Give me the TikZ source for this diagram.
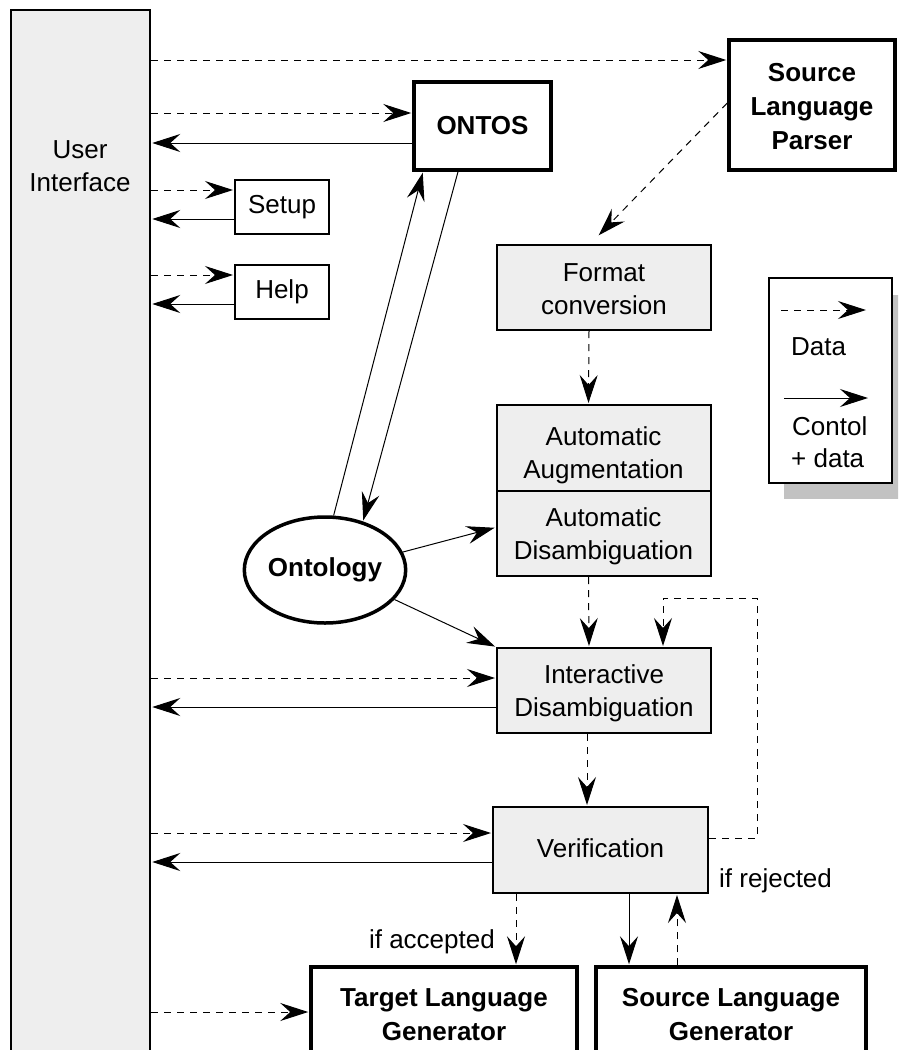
\documentclass[tikz,border=0pt]{standalone}
\usepackage{fontspec}
\setmainfont{Liberation Sans}
\usetikzlibrary{arrows.meta,shapes.geometric}
\definecolor{boxgray}{HTML}{EEEEEE}
\definecolor{shadowgray}{HTML}{C2C2C2}
\begin{document}
\begin{tikzpicture}[x=1pt,y=-1pt,
  font=\fontsize{26}{33}\selectfont,
  >={Stealth[length=28pt,width=18pt,inset=10pt]},
  data/.style={->, dash pattern=on 7pt off 6pt, line width=1pt, shorten >=1pt},
  ctrl/.style={->, line width=1pt, shorten >=1pt},
  uibox/.style={draw, line width=2.5pt, fill=boxgray, inner sep=0},
  graybox/.style={draw, line width=2pt, fill=boxgray, align=center, inner sep=0, minimum width=214pt},
  boldbox/.style={draw, line width=3.5pt, fill=white, align=center, inner sep=0, font=\fontsize{26}{34}\selectfont\bfseries},
  plainbox/.style={draw, line width=2pt, fill=white, inner sep=0},
  lbl/.style={inner sep=0}]
\useasboundingbox (0,0) rectangle (898,1050);
\clip (0,0) rectangle (898,1050);
\fill[white] (0,0) rectangle (898,1050);

% nodes
\node[uibox, minimum width=139pt, minimum height=1070pt] (ui) at (80.5,545) {};
\node[lbl, align=center] (uit) at (80,166) {User\\Interface};
\node[boldbox, minimum width=166pt, minimum height=130pt, label={[lbl,align=center,font=\fontsize{26}{34}\selectfont\bfseries,yshift=-2pt]center:Source\\Language\\Parser}] (slp) at (812,105) {};
\node[boldbox, minimum width=137pt, minimum height=88pt] (ontos) at (482.5,126) {ONTOS};
\node[plainbox, minimum width=94pt, minimum height=54pt] (setup) at (282,207) {Setup};
\node[plainbox, minimum width=94pt, minimum height=54pt] (help) at (282,292) {Help};
\node[graybox, minimum height=85pt, label={[lbl,align=center,yshift=-2pt]center:Format\\conversion}] (fc) at (604,287.5) {};
\node[graybox, minimum height=86pt, label={[lbl,align=center,yshift=-7pt]center:Automatic\\Augmentation}] (aug) at (603.5,448) {};
\node[graybox, minimum height=85pt, label={[lbl,align=center,yshift=-3pt]center:Automatic\\Disambiguation}] (dis) at (603.5,533.5) {};
\node[graybox, minimum height=85pt, label={[lbl,align=center,yshift=-3pt]center:Interactive\\Disambiguation}] (ia) at (604,690.5) {};
\node[graybox, minimum width=215pt, minimum height=86pt, label={[lbl,yshift=2pt]center:Verification}] (ver) at (600.5,850) {};
\node[ellipse, draw, line width=3.5pt, fill=white, minimum width=142pt, minimum height=106pt, inner sep=0, font=\fontsize{26}{33}\selectfont\bfseries] (ont) at (325,570) {Ontology};
\node[boldbox, minimum width=266pt, minimum height=96pt] (tlg) at (444,1015) {Target Language\\Generator};
\node[boldbox, minimum width=270pt, minimum height=96pt] (slg) at (731,1015) {Source Language\\Generator};
\node[lbl, anchor=base west] (rej) at (719,887) {if rejected};
\node[lbl, anchor=base east] (acc) at (495,948) {if accepted};

% legend
\fill[shadowgray] (784,295) rectangle (910,499);
\node[draw, line width=2pt, fill=white, minimum width=123pt, minimum height=205pt, inner sep=0] (lg) at (830.5,380.5) {};
\coordinate (l1a) at (781,310);
\coordinate (l1b) at (867,310);
\coordinate (l2a) at (784,398);
\coordinate (l2b) at (869,398);
\draw[data] (l1a) -- (l1b);
\draw[ctrl] (l2a) -- (l2b);
\node[lbl, anchor=base west] (ldata) at (791,355) {Data};
\node[lbl, anchor=base west] (lctl) at (792,435) {Contol};
\node[lbl, anchor=base west] (lctl2) at (791,467) {+ data};

% connectors with user interface
\draw[data] (ui.east |- 0,60) -- (slp.west |- 0,60);
\draw[data] (ui.east |- 0,113) -- (ontos.west |- 0,113);
\draw[ctrl] (ontos.west |- 0,143) -- (ui.east |- 0,143);
\draw[data] (ui.east |- 0,190) -- (setup.west |- 0,190);
\draw[ctrl] (setup.west |- 0,219) -- (ui.east |- 0,219);
\draw[data] (ui.east |- 0,275) -- (help.west |- 0,275);
\draw[ctrl] (help.west |- 0,304) -- (ui.east |- 0,304);
\draw[data] (ui.east |- 0,678) -- (ia.west |- 0,678);
\draw[ctrl] (ia.west |- 0,707) -- (ui.east |- 0,707);
\draw[data] (ui.east |- 0,833) -- (ver.west |- 0,833);
\draw[ctrl] (ver.west |- 0,862) -- (ui.east |- 0,862);
\draw[data] (ui.east |- 0,1012) -- (tlg.west |- 0,1012);

% pipeline
\draw[data] (slp.west |- 0,103) -- ([xshift=-6pt,yshift=8pt]fc.north);
\draw[data] ([xshift=-15pt]fc.south) -- ([xshift=-15pt]aug.north);
\draw[data] ([xshift=-15pt]dis.south) -- ([xshift=-15pt]ia.north);
\draw[data] ([xshift=-17pt]ia.south) -- (ver.north -| 587,0);
\draw[data] ([yshift=12pt]ver.east) -| (757,598) -| ([xshift=59pt]ia.north);
\draw[data] (ver.south -| 516,0) -- (tlg.north -| 516,0);
\draw[ctrl] (ver.south -| 629,0) -- (slg.north -| 629,0);
\draw[data] (slg.north -| 677,0) -- (ver.south -| 677,0);

% ontology
\draw[ctrl] (ont.81) -- ([xshift=-59.5pt]ontos.south);
\draw[ctrl] ([xshift=-24.5pt]ontos.south) -- (ont.52);
\draw[ctrl] (ont.13) -- ([yshift=6pt]dis.west);
\draw[ctrl] (ont.-23) -- (ia.north west);
\end{tikzpicture}
\end{document}
